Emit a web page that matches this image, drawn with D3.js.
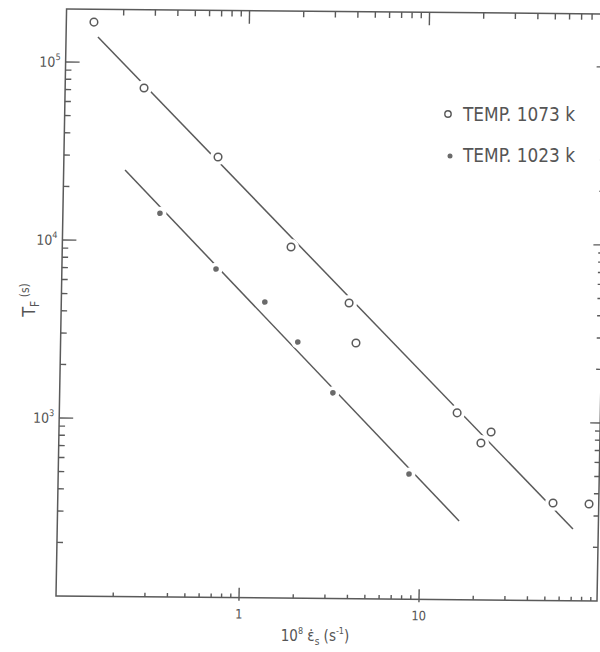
<!DOCTYPE html>
<html>
<head>
<meta charset="utf-8">
<script src="https://cdn.jsdelivr.net/npm/d3@7"></script>
<style>
  html, body { margin: 0; padding: 0; background: #fff; }
  svg { display: block; }
</style>
</head>
<body>
<script>
// ---- data ----
const xMajorTicks = [1, 10];
const xMajorLabels = ["1", "10"];
const yMajorTicks = [1e3, 1e4, 1e5];
const yMajorExponents = ["3", "4", "5"];

// TEMP 1073 K (open circles)
const rate1073 = [0.137, 0.264, 0.691, 1.795, 3.82, 4.21, 15.6, 24.2, 21.3, 54.3, 86.1];
const time1073 = [168000, 72100, 29800, 9380, 4580, 2730, 1120, 878, 761, 353, 350];
// TEMP 1023 K (filled dots)
const rate1023 = [0.333, 0.691, 1.30, 2.00, 3.17, 8.55];
const time1023 = [14300, 6990, 4590, 2750, 1430, 505];
// fitted lines (end points)
const fitRate1073 = [0.1447, 70.5];
const fitTime1073 = [138700, 253];
const fitRate1023 = [0.211, 16.4];
const fitTime1023 = [24900, 277];

const legendLabels = ["TEMP. 1073 k", "TEMP. 1023 k"];

// ---- drawing ----
const W = 600, H = 652;
const ink = "#5a5a5a";
const txt = "#555";
const font = "'Liberation Sans Narrow', 'DejaVu Sans Condensed', 'Liberation Sans', sans-serif";

const svg = d3.select("body").append("svg")
  .attr("width", W).attr("height", H)
  .style("background", "#fff");

const x = d3.scaleLog().domain([0.1, 100]).range([0, 540]);
const y = d3.scaleLog().domain([100, 1e5]).range([0, -534]);

const xLeft = -3, xRight = 538, yTop = -587;
const xLo = x.invert(xLeft), xHi = x.invert(xRight);
const yHi = y.invert(yTop);

// the scanned figure is slightly sheared: reproduce with an affine transform
const g = svg.append("g").attr("transform", "matrix(1,0.0092,-0.018,1,59,596)");

// frame
g.append("path")
  .attr("d", `M${xLeft},${yTop}L${xLeft},0L${xRight},0L${xRight},${yTop}Z`)
  .attr("fill", "none").attr("stroke", ink).attr("stroke-width", 1.5);

const xAll = x.copy().domain([xLo, xHi]).ticks().filter(v => v > 0.15 && v < xHi);
const yAll = y.copy().domain([100, yHi]).ticks().filter(v => v > 150 && v < yHi);
const isXMajor = v => xMajorTicks.some(m => Math.abs(m - v) < 1e-9);
const isYMajor = v => yMajorTicks.some(m => Math.abs(m - v) < 1e-6);

const ticks = g.append("g").attr("stroke", ink).attr("stroke-width", 1.4);
// bottom ticks (inward = up)
ticks.selectAll(".tb").data(xAll).join("line").attr("class", "tb")
  .attr("x1", d => x(d)).attr("x2", d => x(d))
  .attr("y1", d => isXMajor(d) ? 3 : 0).attr("y2", d => isXMajor(d) ? -10 : -4);
// top ticks (inward = down)
ticks.selectAll(".tt").data(xAll).join("line").attr("class", "tt")
  .attr("x1", d => x(d)).attr("x2", d => x(d))
  .attr("y1", yTop).attr("y2", d => yTop + (isXMajor(d) ? 13 : 6));
// left ticks (inward = right)
ticks.selectAll(".tl").data(yAll).join("line").attr("class", "tl")
  .attr("y1", d => y(d)).attr("y2", d => y(d))
  .attr("x1", xLeft).attr("x2", d => xLeft + (isYMajor(d) ? 14 : 6));
// right ticks (inward = left)
ticks.selectAll(".tr").data(yAll).join("line").attr("class", "tr")
  .attr("y1", d => y(d)).attr("y2", d => y(d))
  .attr("x1", xRight).attr("x2", d => xRight - (isYMajor(d) ? 10 : 5));

// x tick labels
g.append("g").selectAll("text").data(xMajorTicks).join("text")
  .attr("x", d => x(d)).attr("y", 21)
  .attr("text-anchor", "middle").attr("fill", txt)
  .attr("font-family", font).attr("font-size", 13)
  .text((d, i) => xMajorLabels[i]);

// y tick labels 10^n
yMajorTicks.forEach((v, i) => {
  const t = g.append("text")
    .attr("x", xLeft - 5).attr("y", y(v) + 5)
    .attr("text-anchor", "end")
    .attr("fill", txt).attr("font-family", font).attr("font-size", 14);
  t.append("tspan").text("10");
  t.append("tspan").attr("dy", -7).attr("font-size", 9).text(yMajorExponents[i]);
});

// fit lines
const line = d3.line().x(d => x(d[0])).y(d => y(d[1]));
g.append("path").datum(d3.zip(fitRate1073, fitTime1073))
  .attr("d", line).attr("fill", "none").attr("stroke", ink).attr("stroke-width", 1.5);
g.append("path").datum(d3.zip(fitRate1023, fitTime1023))
  .attr("d", line).attr("fill", "none").attr("stroke", ink).attr("stroke-width", 1.5);

const pts1073 = d3.zip(rate1073, time1073);
const pts1023 = d3.zip(rate1023, time1023);

// white halos (gaps in lines around markers)
g.append("g").selectAll("circle").data(pts1073).join("circle")
  .attr("cx", d => x(d[0])).attr("cy", d => y(d[1])).attr("r", 8).attr("fill", "#fff");
g.append("g").selectAll("circle").data(pts1023).join("circle")
  .attr("cx", d => x(d[0])).attr("cy", d => y(d[1])).attr("r", 6.5).attr("fill", "#fff");

// markers
g.append("g").selectAll("circle").data(pts1073).join("circle")
  .attr("cx", d => x(d[0])).attr("cy", d => y(d[1])).attr("r", 3.8)
  .attr("fill", "#fff").attr("stroke", ink).attr("stroke-width", 1.5);
g.append("g").selectAll("circle").data(pts1023).join("circle")
  .attr("cx", d => x(d[0])).attr("cy", d => y(d[1])).attr("r", 2.8)
  .attr("fill", "#6a6a6a");

// axis titles
const xt = svg.append("text").attr("x", 315).attr("y", 641)
  .attr("text-anchor", "middle").attr("fill", txt).attr("font-family", font).attr("font-size", 15);
xt.append("tspan").text("10");
xt.append("tspan").attr("dy", -7).attr("font-size", 9).text("8");
xt.append("tspan").attr("dy", 7).text(" ε̇");
xt.append("tspan").attr("dy", 4).attr("font-size", 10).text("s");
xt.append("tspan").attr("dy", -4).text(" (s");
xt.append("tspan").attr("dy", -7).attr("font-size", 9).text("-1");
xt.append("tspan").attr("dy", 7).text(")");

const yt = svg.append("text").attr("transform", "translate(35,300) rotate(-90)")
  .attr("text-anchor", "middle").attr("fill", txt).attr("font-family", font).attr("font-size", 18);
yt.append("tspan").text("T");
yt.append("tspan").attr("dy", 4).attr("font-size", 12).text("F");
yt.append("tspan").attr("dy", -10).attr("font-size", 12).text(" (s)");

// legend
const leg = svg.append("g");
leg.append("circle").attr("cx", 448).attr("cy", 114).attr("r", 3.2)
  .attr("fill", "#fff").attr("stroke", ink).attr("stroke-width", 1.4);
leg.append("circle").attr("cx", 450).attr("cy", 156).attr("r", 2.5).attr("fill", "#6a6a6a");
legendLabels.forEach((s, i) => {
  leg.append("text").attr("x", 463).attr("y", 121 + i * 41)
    .attr("fill", txt).attr("font-family", font).attr("font-size", 19)
    .attr("textLength", 112).attr("lengthAdjust", "spacingAndGlyphs")
    .text(s);
});
</script>
</body>
</html>
